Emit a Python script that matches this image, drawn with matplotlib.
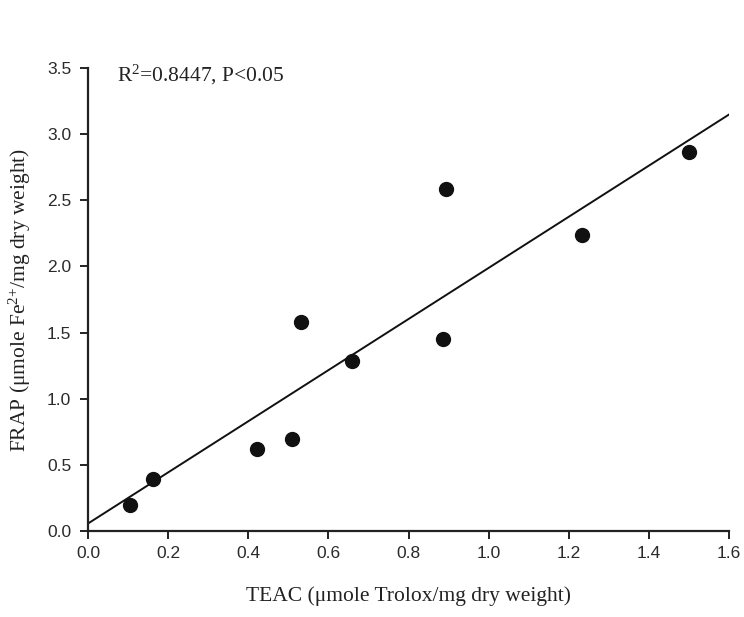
import matplotlib

matplotlib.use("Agg")
import matplotlib.pyplot as plt  # noqa: E402
import numpy as np  # noqa: E402

# TEAC vs FRAP antioxidant capacity
teac = [0.105, 0.163, 0.421, 0.510, 0.532, 0.658, 0.885, 0.894, 1.232, 1.500]
frap = [0.197, 0.393, 0.617, 0.693, 1.577, 1.285, 1.453, 2.583, 2.235, 2.867]
x_ticks = [0.0, 0.2, 0.4, 0.6, 0.8, 1.0, 1.2, 1.4, 1.6]
y_ticks = [0.0, 0.5, 1.0, 1.5, 2.0, 2.5, 3.0, 3.5]
stats_text = r"R$^2$=0.8447, P<0.05"

SERIF = ["Liberation Serif", "DejaVu Serif"]
SANS = ["Liberation Sans", "DejaVu Sans"]

plt.rcParams["mathtext.fontset"] = "custom"
plt.rcParams["mathtext.rm"] = "Liberation Serif"
plt.rcParams["mathtext.it"] = "Liberation Serif:italic"
plt.rcParams["mathtext.default"] = "regular"

fig = plt.figure(figsize=(7.44, 6.17), dpi=100)
ax = fig.add_axes([0.1183, 0.1394, 0.8617, 0.7504])

slope, intercept = np.polyfit(teac, frap, 1)
xf = np.array([0.0, 1.6])
ax.plot(xf, slope * xf + intercept, color="#111111", lw=1.4, zorder=2)
ax.plot(teac, frap, "o", color="#111111", ms=10, zorder=3)

ax.set_xlim(0, 1.6)
ax.set_ylim(0, 3.5)
ax.set_xticks(x_ticks)
ax.set_yticks(y_ticks)
ax.set_xticklabels([f"{v:.1f}" for v in x_ticks], family=SANS, fontsize=12.5, color="#2a2a2a")
ax.set_yticklabels([f"{v:.1f}" for v in y_ticks], family=SANS, fontsize=12.5, color="#2a2a2a")
ax.tick_params(direction="out", length=6, width=1.4, color="#222222")
ax.tick_params(axis="x", pad=5)
ax.tick_params(axis="y", pad=6)

for side in ("top", "right"):
    ax.spines[side].set_visible(False)
for side in ("left", "bottom"):
    ax.spines[side].set_linewidth(1.6)
    ax.spines[side].set_color("#222222")

ax.set_xlabel("TEAC (μmole Trolox/mg dry weight)", family=SERIF, fontsize=15.5,
              color="#222222", labelpad=18)
ax.set_ylabel(r"FRAP (μmole Fe$^{2{+}}$/mg dry weight)", family=SERIF, fontsize=15.5,
              color="#222222", va="center", ha="center")
ax.yaxis.set_label_coords(-0.106, 0.5)
ax.text(0.072, 3.45, stats_text, family=SERIF, fontsize=15.5, color="#222222", va="center")

fig.savefig("out.png", dpi=100)
